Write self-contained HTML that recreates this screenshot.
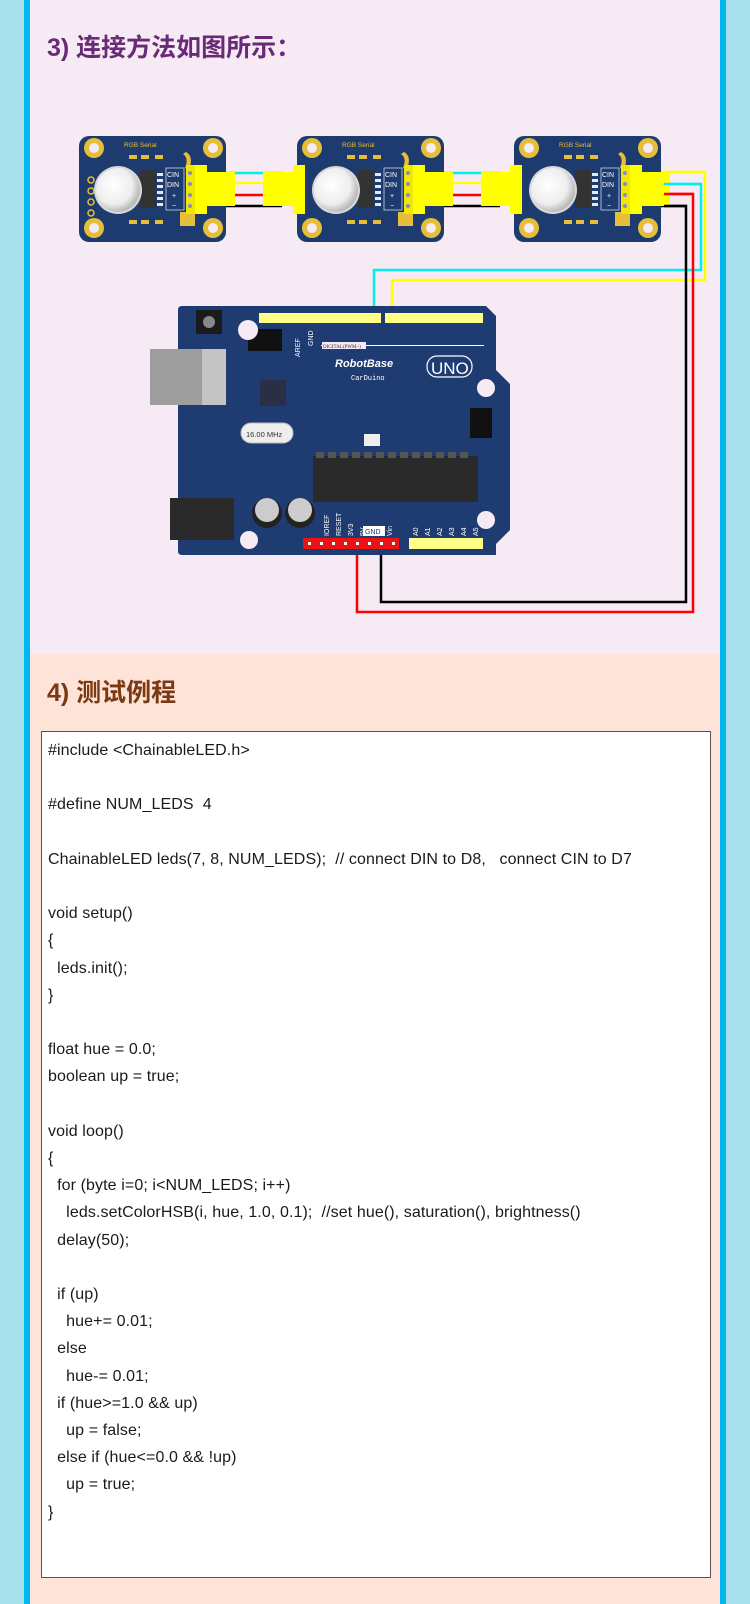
<!DOCTYPE html>
<html><head><meta charset="utf-8"><style>
html,body{margin:0;padding:0}
body{width:750px;height:1604px;position:relative;background:#a6e0ea;overflow:hidden;font-family:"Liberation Sans","Noto Sans CJK SC",sans-serif}
.stripe{position:absolute;top:0;height:1604px;width:6px;background:#00b8ee}
#top{position:absolute;left:30px;top:0;width:690px;height:654px;background:#f6ebf5}
#bot{position:absolute;left:30px;top:654px;width:690px;height:950px;background:#fde3d8}
h2{position:absolute;margin:0;font-size:25px;font-weight:bold;letter-spacing:0px}
#code{position:absolute;left:41px;top:731px;width:670px;height:847px;background:#fff;border:1.5px solid #555;box-sizing:border-box}
#code pre{margin:0;position:absolute;left:6px;top:5px;font-family:"Liberation Sans",sans-serif;font-size:16px;line-height:27.2px;color:#1a1a1a;letter-spacing:0.1px}
</style></head><body>
<div class="stripe" style="left:24px"></div>
<div class="stripe" style="left:720px"></div>
<div id="top"></div>
<div id="bot"></div>
<h2 style="left:47px;top:28px;color:#6b2a78">3) 连接方法如图所示：</h2>
<h2 style="left:47px;top:673px;color:#7b3913">4) 测试例程</h2>

<svg width="750" height="654" style="position:absolute;left:0;top:0" xmlns="http://www.w3.org/2000/svg">
<defs>
<radialGradient id="led" cx="0.4" cy="0.4" r="0.6"><stop offset="0" stop-color="#fff"/><stop offset="0.7" stop-color="#eee"/><stop offset="1" stop-color="#bbb"/></radialGradient>
</defs>
<g stroke-width="2.5" fill="none">
<line x1="218" y1="173" x2="282" y2="173" stroke="#00f0f0"/>
<line x1="218" y1="183" x2="282" y2="183" stroke="#ffff00"/>
<line x1="218" y1="195" x2="282" y2="195" stroke="#ff0000"/>
<line x1="218" y1="206" x2="282" y2="206" stroke="#000"/>
<line x1="435" y1="173" x2="500" y2="173" stroke="#00f0f0"/>
<line x1="435" y1="183" x2="500" y2="183" stroke="#ffff00"/>
<line x1="435" y1="195" x2="500" y2="195" stroke="#ff0000"/>
<line x1="435" y1="206" x2="500" y2="206" stroke="#000"/>
<polyline points="650,172 705,172 705,280 392,280 392,318" stroke="#ffff00"/>
<polyline points="650,184 701,184 701,270 374,270 374,318" stroke="#00f0f0"/>
<polyline points="650,194 693,194 693,612 357,612 357,543" stroke="#ff0000"/>
<polyline points="650,206 686,206 686,602 381,602 381,543" stroke="#000"/>
</g>

<g transform="translate(79,136)">
<rect x="0" y="0" width="147" height="106" rx="10" fill="#1e3b6f"/>
<g fill="#e6bf3a"><circle cx="15" cy="12" r="10"/><circle cx="134" cy="12" r="10"/><circle cx="15" cy="92" r="10"/><circle cx="134" cy="92" r="10"/></g>
<g fill="#f6ebf5"><circle cx="15" cy="12" r="5"/><circle cx="134" cy="12" r="5"/><circle cx="15" cy="92" r="5"/><circle cx="134" cy="92" r="5"/></g>
<g fill="none" stroke="#e6bf3a" stroke-width="1.5"><circle cx="12" cy="44" r="3"/><circle cx="12" cy="55" r="3"/><circle cx="12" cy="66" r="3"/><circle cx="12" cy="77" r="3"/></g>
<text x="45" y="11" font-size="6.5" fill="#e6bf3a" font-family="Liberation Sans">RGB Serial</text>
<g fill="#e6bf3a"><rect x="50" y="19" width="8" height="4"/><rect x="62" y="19" width="8" height="4"/><rect x="76" y="19" width="8" height="4"/><rect x="50" y="84" width="8" height="4"/><rect x="62" y="84" width="8" height="4"/><rect x="76" y="84" width="8" height="4"/><path d="M107 16 q8 4 3 18 l-4 -2 q4 -10 -2 -14z"/><rect x="101" y="76" width="15" height="14"/></g>
<rect x="61" y="34" width="16" height="38" fill="#333"/>
<g fill="#e8e8e8"><rect x="78" y="37" width="6" height="3"/><rect x="78" y="43" width="6" height="3"/><rect x="78" y="49" width="6" height="3"/><rect x="78" y="55" width="6" height="3"/><rect x="78" y="61" width="6" height="3"/><rect x="78" y="67" width="6" height="3"/></g>
<circle cx="39" cy="54" r="24" fill="#d8d8d8"/>
<circle cx="39" cy="54" r="22" fill="url(#led)"/>
<rect x="87" y="32" width="18" height="42" fill="none" stroke="#c8d4e8" stroke-width="0.8"/>
<g font-size="7" fill="#fff" font-family="Liberation Sans"><text x="88" y="41">CIN</text><text x="88" y="51">DIN</text><text x="93" y="62">+</text><text x="93" y="72">−</text></g>
<rect x="107" y="29" width="9" height="49" fill="#f0e800"/>
<rect x="116" y="29" width="12" height="49" fill="#ffff00"/>
<rect x="128" y="36" width="28" height="34" fill="#ffff00"/>
<g fill="#8a8ac0"><circle cx="111" cy="37" r="2"/><circle cx="111" cy="48" r="2"/><circle cx="111" cy="59" r="2"/><circle cx="111" cy="70" r="2"/></g>
</g>
<g transform="translate(218,0)">
<rect x="45" y="172" width="30" height="34" fill="#ffff00"/><rect x="75" y="165" width="18" height="48" fill="#ffff00"/>
</g>
<g transform="translate(436,0)">
<rect x="45" y="172" width="30" height="34" fill="#ffff00"/><rect x="75" y="165" width="18" height="48" fill="#ffff00"/>
</g>
<g transform="translate(297,136)">
<rect x="0" y="0" width="147" height="106" rx="10" fill="#1e3b6f"/>
<g fill="#e6bf3a"><circle cx="15" cy="12" r="10"/><circle cx="134" cy="12" r="10"/><circle cx="15" cy="92" r="10"/><circle cx="134" cy="92" r="10"/></g>
<g fill="#f6ebf5"><circle cx="15" cy="12" r="5"/><circle cx="134" cy="12" r="5"/><circle cx="15" cy="92" r="5"/><circle cx="134" cy="92" r="5"/></g>
<text x="45" y="11" font-size="6.5" fill="#e6bf3a" font-family="Liberation Sans">RGB Serial</text>
<g fill="#e6bf3a"><rect x="50" y="19" width="8" height="4"/><rect x="62" y="19" width="8" height="4"/><rect x="76" y="19" width="8" height="4"/><rect x="50" y="84" width="8" height="4"/><rect x="62" y="84" width="8" height="4"/><rect x="76" y="84" width="8" height="4"/><path d="M107 16 q8 4 3 18 l-4 -2 q4 -10 -2 -14z"/><rect x="101" y="76" width="15" height="14"/></g>
<rect x="61" y="34" width="16" height="38" fill="#333"/>
<g fill="#e8e8e8"><rect x="78" y="37" width="6" height="3"/><rect x="78" y="43" width="6" height="3"/><rect x="78" y="49" width="6" height="3"/><rect x="78" y="55" width="6" height="3"/><rect x="78" y="61" width="6" height="3"/><rect x="78" y="67" width="6" height="3"/></g>
<circle cx="39" cy="54" r="24" fill="#d8d8d8"/>
<circle cx="39" cy="54" r="22" fill="url(#led)"/>
<rect x="87" y="32" width="18" height="42" fill="none" stroke="#c8d4e8" stroke-width="0.8"/>
<g font-size="7" fill="#fff" font-family="Liberation Sans"><text x="88" y="41">CIN</text><text x="88" y="51">DIN</text><text x="93" y="62">+</text><text x="93" y="72">−</text></g>
<rect x="-4" y="29" width="12" height="49" fill="#ffff00"/>
<rect x="107" y="29" width="9" height="49" fill="#f0e800"/>
<rect x="116" y="29" width="12" height="49" fill="#ffff00"/>
<rect x="128" y="36" width="28" height="34" fill="#ffff00"/>
<g fill="#8a8ac0"><circle cx="111" cy="37" r="2"/><circle cx="111" cy="48" r="2"/><circle cx="111" cy="59" r="2"/><circle cx="111" cy="70" r="2"/></g>
</g>
<g transform="translate(514,136)">
<rect x="0" y="0" width="147" height="106" rx="10" fill="#1e3b6f"/>
<g fill="#e6bf3a"><circle cx="15" cy="12" r="10"/><circle cx="134" cy="12" r="10"/><circle cx="15" cy="92" r="10"/><circle cx="134" cy="92" r="10"/></g>
<g fill="#f6ebf5"><circle cx="15" cy="12" r="5"/><circle cx="134" cy="12" r="5"/><circle cx="15" cy="92" r="5"/><circle cx="134" cy="92" r="5"/></g>
<text x="45" y="11" font-size="6.5" fill="#e6bf3a" font-family="Liberation Sans">RGB Serial</text>
<g fill="#e6bf3a"><rect x="50" y="19" width="8" height="4"/><rect x="62" y="19" width="8" height="4"/><rect x="76" y="19" width="8" height="4"/><rect x="50" y="84" width="8" height="4"/><rect x="62" y="84" width="8" height="4"/><rect x="76" y="84" width="8" height="4"/><path d="M107 16 q8 4 3 18 l-4 -2 q4 -10 -2 -14z"/><rect x="101" y="76" width="15" height="14"/></g>
<rect x="61" y="34" width="16" height="38" fill="#333"/>
<g fill="#e8e8e8"><rect x="78" y="37" width="6" height="3"/><rect x="78" y="43" width="6" height="3"/><rect x="78" y="49" width="6" height="3"/><rect x="78" y="55" width="6" height="3"/><rect x="78" y="61" width="6" height="3"/><rect x="78" y="67" width="6" height="3"/></g>
<circle cx="39" cy="54" r="24" fill="#d8d8d8"/>
<circle cx="39" cy="54" r="22" fill="url(#led)"/>
<rect x="87" y="32" width="18" height="42" fill="none" stroke="#c8d4e8" stroke-width="0.8"/>
<g font-size="7" fill="#fff" font-family="Liberation Sans"><text x="88" y="41">CIN</text><text x="88" y="51">DIN</text><text x="93" y="62">+</text><text x="93" y="72">−</text></g>
<rect x="-4" y="29" width="12" height="49" fill="#ffff00"/>
<rect x="107" y="29" width="9" height="49" fill="#f0e800"/>
<rect x="116" y="29" width="12" height="49" fill="#ffff00"/>
<rect x="128" y="36" width="28" height="34" fill="#ffff00"/>
<g fill="#8a8ac0"><circle cx="111" cy="37" r="2"/><circle cx="111" cy="48" r="2"/><circle cx="111" cy="59" r="2"/><circle cx="111" cy="70" r="2"/></g>
</g>
<g stroke-width="2.5" fill="none">
<line x1="664" y1="172" x2="705" y2="172" stroke="#ffff00"/>
<line x1="664" y1="184" x2="701" y2="184" stroke="#00f0f0"/>
<line x1="664" y1="194" x2="693" y2="194" stroke="#ff0000"/>
<line x1="664" y1="206" x2="686" y2="206" stroke="#000"/>
</g>

<path d="M182 306 H486 L496 316 V370 L510 384 V530 L496 544 V555 H182 Q178 555 178 551 V310 Q178 306 182 306Z" fill="#1f3c72"/>
<rect x="150" y="349" width="52" height="56" fill="#9e9e9e"/>
<rect x="202" y="349" width="24" height="56" fill="#c4c4c4"/>
<rect x="170" y="498" width="64" height="42" fill="#2a2a2a"/>
<rect x="196" y="310" width="26" height="24" fill="#1b1b1b"/><circle cx="209" cy="322" r="6" fill="#888"/>
<rect x="248" y="329" width="34" height="22" fill="#111"/>
<circle cx="248" cy="330" r="10" fill="#f6ebf5"/><circle cx="486" cy="388" r="9" fill="#f6ebf5"/><circle cx="486" cy="520" r="9" fill="#f6ebf5"/><circle cx="249" cy="540" r="9" fill="#f6ebf5"/>
<rect x="259" y="313" width="122" height="10" fill="#ffff88"/>
<rect x="385" y="313" width="98" height="10" fill="#ffff88"/>
<g font-size="7" fill="#fff" font-family="Liberation Sans">
<text x="300" y="357" transform="rotate(-90 300 357)">AREF</text>
<text x="313" y="346" transform="rotate(-90 313 346)">GND</text>
</g>
<rect x="321" y="345" width="163" height="1" fill="#fff"/>
<rect x="322" y="342" width="44" height="7" fill="#f6ebf5"/>
<text x="323" y="348" font-size="5" fill="#333" font-family="Liberation Serif">DIGITAL(PWM~)</text>
<text x="335" y="367" font-size="11" font-style="italic" font-weight="bold" fill="#fff" font-family="Liberation Sans">RobotBase</text>
<text x="351" y="380" font-size="7" fill="#fff" font-family="Liberation Mono">CarDuino</text>
<rect x="427" y="356" width="45" height="21" rx="10" fill="none" stroke="#fff" stroke-width="1.2"/>
<text x="431" y="374" font-size="17" fill="#fff" font-family="Liberation Sans">UNO</text>
<rect x="260" y="380" width="26" height="26" fill="#2b2f45"/>
<rect x="241" y="423" width="52" height="20" rx="10" fill="#eee" stroke="#bbb"/>
<text x="246" y="437" font-size="7.5" fill="#333" font-family="Liberation Sans">16.00 MHz</text>
<rect x="470" y="408" width="22" height="30" fill="#111"/>
<rect x="364" y="434" width="16" height="12" fill="#eee"/>
<rect x="313" y="456" width="165" height="46" fill="#2a2a2a"/>
<g fill="#555"><rect x="316" y="452" width="8" height="6"/><rect x="328" y="452" width="8" height="6"/><rect x="340" y="452" width="8" height="6"/><rect x="352" y="452" width="8" height="6"/><rect x="364" y="452" width="8" height="6"/><rect x="376" y="452" width="8" height="6"/><rect x="388" y="452" width="8" height="6"/><rect x="400" y="452" width="8" height="6"/><rect x="412" y="452" width="8" height="6"/><rect x="424" y="452" width="8" height="6"/><rect x="436" y="452" width="8" height="6"/><rect x="448" y="452" width="8" height="6"/><rect x="460" y="452" width="8" height="6"/></g>
<circle cx="267" cy="513" r="15" fill="#222"/><circle cx="267" cy="510" r="12" fill="#ccc"/>
<circle cx="300" cy="513" r="15" fill="#222"/><circle cx="300" cy="510" r="12" fill="#ccc"/>
<g font-size="7" fill="#fff" font-family="Liberation Sans">
<text x="329" y="536" transform="rotate(-90 329 536)">IOREF</text>
<text x="341" y="536" transform="rotate(-90 341 536)">RESET</text>
<text x="353" y="536" transform="rotate(-90 353 536)">3V3</text>
<text x="365" y="536" transform="rotate(-90 365 536)">5V</text>
<text x="392" y="536" transform="rotate(-90 392 536)">Vin</text>
<text x="418" y="536" transform="rotate(-90 418 536)">A0</text>
<text x="430" y="536" transform="rotate(-90 430 536)">A1</text>
<text x="442" y="536" transform="rotate(-90 442 536)">A2</text>
<text x="454" y="536" transform="rotate(-90 454 536)">A3</text>
<text x="466" y="536" transform="rotate(-90 466 536)">A4</text>
<text x="478" y="536" transform="rotate(-90 478 536)">A5</text>
</g>
<rect x="363" y="526" width="22" height="10" fill="#fff"/><text x="365" y="534" font-size="7" fill="#1f3c72" font-family="Liberation Sans">GND</text>
<rect x="303" y="538" width="96" height="11" fill="#ee1111"/>
<rect x="409" y="538" width="74" height="11" fill="#ffff88"/>
<g fill="#fff"><rect x="308" y="542" width="3" height="3"/><rect x="320" y="542" width="3" height="3"/><rect x="332" y="542" width="3" height="3"/><rect x="344" y="542" width="3" height="3"/><rect x="356" y="542" width="3" height="3"/><rect x="368" y="542" width="3" height="3"/><rect x="380" y="542" width="3" height="3"/><rect x="392" y="542" width="3" height="3"/></g>
</svg>

<div id="code"><pre>#include &lt;ChainableLED.h&gt;

#define NUM_LEDS  4

ChainableLED leds(7, 8, NUM_LEDS);  // connect DIN to D8,   connect CIN to D7

void setup()
{
  leds.init();
}

float hue = 0.0;
boolean up = true;

void loop()
{
  for (byte i=0; i&lt;NUM_LEDS; i++)
    leds.setColorHSB(i, hue, 1.0, 0.1);  //set hue(), saturation(), brightness()
  delay(50);

  if (up)
    hue+= 0.01;
  else
    hue-= 0.01;
  if (hue&gt;=1.0 &amp;&amp; up)
    up = false;
  else if (hue&lt;=0.0 &amp;&amp; !up)
    up = true;
}</pre></div>
</body></html>
